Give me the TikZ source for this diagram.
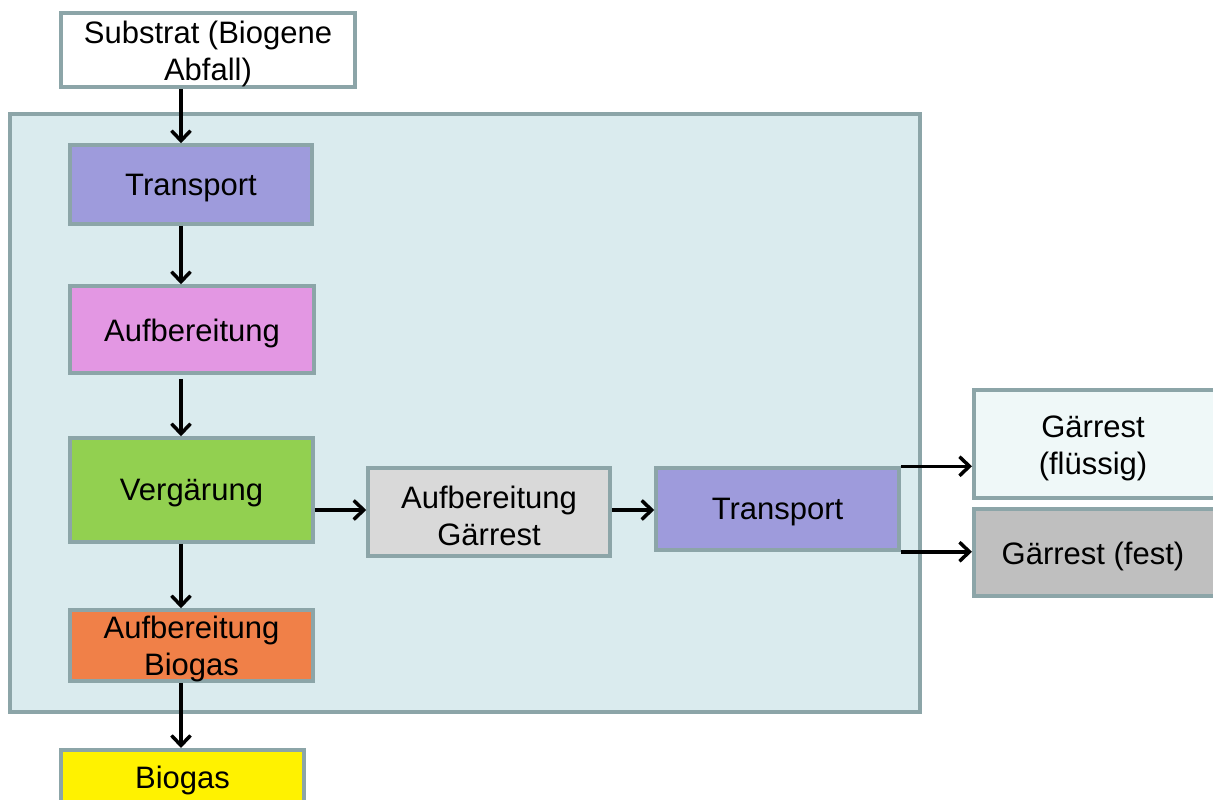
\documentclass[tikz,border=0pt]{standalone}
\usepackage{fontspec}
\setmainfont{Liberation Sans}
\usetikzlibrary{arrows.meta}
\definecolor{bord}{HTML}{8CA5A8}
\definecolor{cont}{HTML}{DAEBEE}
\definecolor{violet}{HTML}{9E9BDC}
\definecolor{pinkish}{HTML}{E397E3}
\definecolor{greenv}{HTML}{92D050}
\definecolor{orangeb}{HTML}{F08048}
\definecolor{greyag}{HTML}{D9D9D9}
\definecolor{fluid}{HTML}{EFF8F8}
\definecolor{solid}{HTML}{BFBFBF}
\tikzset{
  box/.style={draw=bord, line width=3.5pt, inner sep=0pt},
  lbl/.style={font=\fontsize{31}{37}\selectfont, align=center, inner sep=0pt, yshift=-3.5pt},
  arr/.style={line width=3.5pt, -{Straight Barb[length=10pt,width=19pt,line width=3.5pt]}}
}
\begin{document}
\begin{tikzpicture}[x=1pt,y=-1pt]
\useasboundingbox (0,0) rectangle (1213,800);
\clip (0,0) rectangle (1213,800);
% container
\node[box, fill=cont, minimum width=910pt, minimum height=598pt] (cont) at (465,413) {};
% nodes
\node[box, fill=white, minimum width=294pt, minimum height=74pt,
  label={[lbl]center:Substrat (Biogene\\Abfall)}] (sub) at (208,50) {};
\node[box, fill=violet, minimum width=242pt, minimum height=79pt,
  label={[lbl]center:Transport}] (t1) at (191,184.5) {};
\node[box, fill=pinkish, minimum width=244pt, minimum height=87pt,
  label={[lbl]center:Aufbereitung}] (ab) at (192,329.5) {};
\node[box, fill=greenv, minimum width=243pt, minimum height=104pt,
  label={[lbl]center:Verg\"arung}] (ver) at (191.5,490) {};
\node[box, fill=orangeb, minimum width=243pt, minimum height=71pt,
  label={[lbl]center:Aufbereitung\\Biogas}] (abg) at (191.5,645.5) {};
\node[box, fill=yellow, minimum width=243pt, minimum height=80pt, anchor=north] (bio) at (182.5,748) {};
\node[lbl] (biot) at (182.5,777) {Biogas};
\node[box, fill=greyag, minimum width=242pt, minimum height=88pt,
  label={[lbl]center:Aufbereitung\\G\"arrest}] (agr) at (489,512) {};
\node[box, fill=violet, minimum width=243pt, minimum height=82pt,
  label={[lbl]center:Transport}] (t2) at (777.5,509) {};
\node[box, fill=fluid, minimum width=245pt, minimum height=108pt, anchor=west] (fl) at (972,444) {};
\node[lbl] (flt) at (1093,445) {G\"arrest\\(fl\"ussig)};
\node[box, fill=solid, minimum width=245pt, minimum height=87pt, anchor=west] (fe) at (972,552.5) {};
\node[lbl] (fet) at (1093,553) {G\"arrest (fest)};
% helper coordinates
\coordinate (colx) at (181,0);
\coordinate (rowy) at (0,510);
% connectors
\draw[arr] (sub.south -| colx) -- (t1.north -| colx);
\draw[arr] (t1.south -| colx) -- (ab.north -| colx);
\draw[arr] ([yshift=-4pt]ab.south -| colx) -- (ver.north -| colx);
\draw[arr] (ver.south -| colx) -- (abg.north -| colx);
\draw[arr] (abg.south -| colx) -- (bio.north -| colx);
\draw[arr] (ver.east |- rowy) -- (agr.west |- rowy);
\draw[arr] (agr.east |- rowy) -- (t2.west |- rowy);
\draw[arr] (t2.north east) -- (fl.west |- t2.north east);
\draw[arr] (t2.south east) -- (fe.west |- t2.south east);
\end{tikzpicture}
\end{document}
